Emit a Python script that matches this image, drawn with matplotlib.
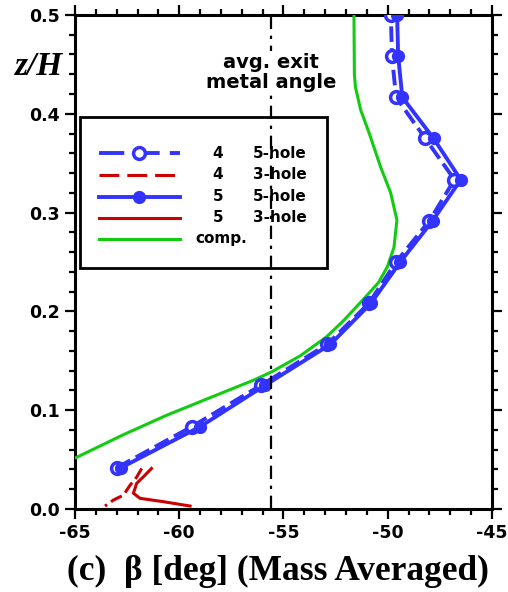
import numpy as np
import matplotlib
matplotlib.use("Agg")
import matplotlib.pyplot as plt
from matplotlib.patches import Rectangle
from matplotlib.ticker import MultipleLocator

plt.rcParams["axes.unicode_minus"] = False

# spanwise stations of the probe traverses
z_probe = [0.0417, 0.0833, 0.125, 0.1667, 0.2083, 0.25, 0.2917, 0.3333,
           0.375, 0.4167, 0.4583, 0.5]
beta_4_5hole = [-63.0, -59.4, -56.1, -52.9, -50.9, -49.6, -48.0, -46.8,
                -48.2, -49.6, -49.8, -49.85]
beta_5_5hole = [-62.8, -59.0, -55.9, -52.75, -50.8, -49.4, -47.85, -46.5,
                -47.8, -49.3, -49.5, -49.55]

# 3-hole probe near the endwall
z_3hole_4 = [0.041, 0.032, 0.024, 0.014, 0.009, 0.003]
beta_3hole_4 = [-61.8, -62.05, -62.36, -62.68, -63.16, -63.56]
z_3hole_5 = [0.041, 0.033, 0.026, 0.016, 0.0108, 0.0074, 0.003]
beta_3hole_5 = [-61.33, -61.7, -62.04, -62.2, -61.88, -60.76, -59.48]

# computation
z_comp = [0.5, 0.44, 0.427, 0.404, 0.381, 0.346, 0.32, 0.2925, 0.265, 0.245,
          0.229, 0.2115, 0.19, 0.174, 0.155, 0.139, 0.1306, 0.112, 0.095,
          0.075, 0.052]
beta_comp = [-51.62, -51.6, -51.55, -51.3, -50.9, -50.34, -49.86, -49.56,
             -49.7, -50.02, -50.45, -51.2, -52.15, -52.95, -54.2, -55.55,
             -56.41, -58.6, -60.59, -62.7, -64.95]

metal_angle = -55.6

legend_nums = ["4", "4", "5", "5", ""]
legend_probes = ["5-hole", "3-hole", "5-hole", "3-hole", ""]

blue = "#3333ff"
red = "#cc0000"
green = "#11cc11"
sans = "DejaVu Sans"
serif = "Liberation Serif"

styles = [
    dict(color=blue, lw=2.8, ls=(0, (4, 1.6)), marker="o", ms=8.5,
         mfc="white", mec=blue, mew=2.5),
    dict(color=red, lw=2.2, ls=(0, (4, 1.6))),
    dict(color=blue, lw=2.8, marker="o", ms=8.5, mfc=blue, mec=blue),
    dict(color=red, lw=2.2),
    dict(color=green, lw=2.2),
]

fig = plt.figure(figsize=(5.08, 5.92), dpi=100)
ax = fig.add_axes([0.1476, 0.1402, 0.9685 - 0.1476, 0.9747 - 0.1402])

ax.plot(beta_comp, z_comp, zorder=3, **styles[4])
ax.plot(beta_4_5hole, z_probe, zorder=4, **styles[0])
ax.plot(beta_3hole_4, z_3hole_4, zorder=4, **styles[1])
ax.plot(beta_5_5hole, z_probe, zorder=4, **styles[2])
ax.plot(beta_3hole_5, z_3hole_5, zorder=4, **styles[3])

ax.axvline(metal_angle, color="black", lw=1.6, ls=(0, (6, 3, 1.5, 3)),
           zorder=8)
ax.text(metal_angle, 0.442, "avg. exit\nmetal angle", ha="center",
        va="center", fontsize=14, fontweight="bold", family=sans,
        linespacing=1.1,
        bbox=dict(facecolor="white", edgecolor="none", pad=1), zorder=9)

# legend box, drawn in axes fraction
ax.add_patch(Rectangle((0.012, 0.4879), 0.592, 0.3056, transform=ax.transAxes,
                       facecolor="white", edgecolor="black", lw=2,
                       zorder=6))
rows = [0.7206, 0.6761, 0.6316, 0.5891, 0.5466]
for y, st, num, probe in zip(rows, styles, legend_nums, legend_probes):
    st = dict(st)
    if isinstance(st.get("ls"), tuple):
        st["ls"] = (0, (6.5, 2.6))
    mk = st.pop("marker", None)
    ax.plot([0.0576, 0.2518], [y, y], transform=ax.transAxes, clip_on=False,
            zorder=7, **{k: v for k, v in st.items()
                         if k not in ("ms", "mfc", "mec", "mew")})
    if mk:
        ax.plot([0.1547], [y], transform=ax.transAxes, clip_on=False,
                zorder=7, marker=mk, ls="none", color=st["color"],
                ms=st["ms"], mfc=st["mfc"], mec=st["mec"],
                mew=st.get("mew", 1))
    if num:
        ax.text(0.343, y, num, transform=ax.transAxes, ha="center",
                va="center", fontsize=11, fontweight="bold", family=sans,
                zorder=7)
        ax.text(0.427, y, probe, transform=ax.transAxes, ha="left",
                va="center", fontsize=11, fontweight="bold", family=sans,
                zorder=7)
    else:
        ax.text(0.288, y, "comp.", transform=ax.transAxes, ha="left",
                va="center", fontsize=11, fontweight="bold", family=sans,
                zorder=7)

ax.set_xlim(-65, -45)
ax.set_ylim(0, 0.5)
ax.xaxis.set_major_locator(MultipleLocator(5))
ax.xaxis.set_minor_locator(MultipleLocator(1))
ax.yaxis.set_major_locator(MultipleLocator(0.1))
ax.yaxis.set_minor_locator(MultipleLocator(0.02))
ax.tick_params(which="both", direction="out", top=True, right=True, width=1.6)
ax.tick_params(which="major", length=7.5, labelsize=12.5, pad=3.5)
ax.tick_params(which="minor", length=4.5)
ax.yaxis.set_major_formatter(plt.FormatStrFormatter("%.1f"))
for lab in ax.get_xticklabels() + ax.get_yticklabels():
    lab.set_fontfamily(sans)
    lab.set_fontweight("bold")
for sp in ax.spines.values():
    sp.set_linewidth(2.2)

fig.text(0.548, 0.0203, "(c)  \u03b2 [deg] (Mass Averaged)", fontsize=25.5,
         fontweight="bold", family=serif, ha="center", va="baseline")
fig.text(0.0295, 0.873, "z/H", fontsize=24, fontweight="bold",
         style="italic", family=serif, ha="left", va="baseline")

fig.savefig("out.png", dpi=100)
